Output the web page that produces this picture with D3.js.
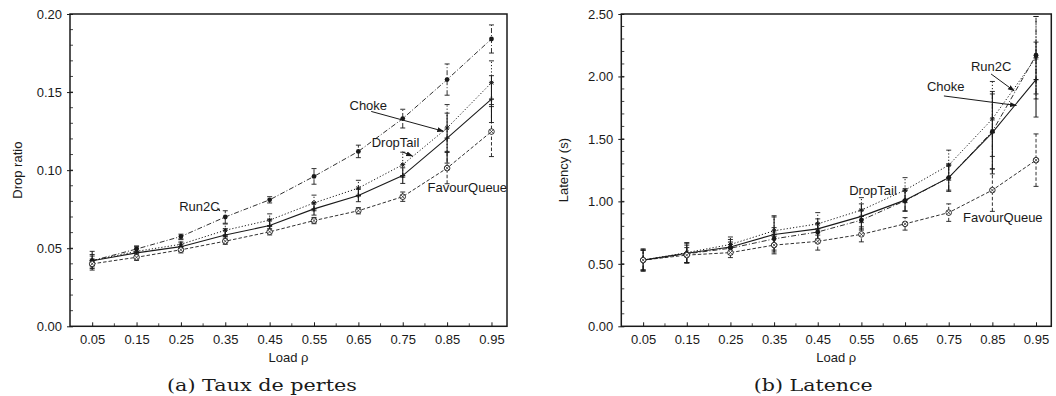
<!DOCTYPE html>
<html>
<head>
<meta charset="utf-8">
<script src="https://cdn.jsdelivr.net/npm/d3@7/dist/d3.min.js"></script>
<style>
  html, body { margin: 0; padding: 0; background: #fff; }
  svg { display: block; }
  text { font-family: "Liberation Sans", Arial, Helvetica, sans-serif; fill: #1a1a1a; }
  .caption { font-family: "DejaVu Serif", "Liberation Serif", serif; }
</style>
</head>
<body>
<svg id="chart" width="1056" height="396"></svg>
<script>
// Offered load (x axis, both panels)
const loads = [0.05, 0.15, 0.25, 0.35, 0.45, 0.55, 0.65, 0.75, 0.85, 0.95];
const xLabelTicks = [0.05, 0.15, 0.25, 0.35, 0.45, 0.55, 0.65, 0.75, 0.85, 0.95];
const xMinorTicks = [0.1, 0.2, 0.3, 0.4, 0.5, 0.6, 0.7, 0.8, 0.9];

// Panel (a): drop ratio, mean and half-width of confidence interval
const dropRun2C         = [0.042, 0.0495, 0.0575, 0.070, 0.081, 0.096, 0.112, 0.133, 0.158, 0.184];
const dropRun2CErr      = [0.003, 0.002, 0.0015, 0.004, 0.002, 0.005, 0.004, 0.006, 0.010, 0.009];
const dropDropTail      = [0.042, 0.048, 0.0525, 0.0615, 0.068, 0.079, 0.0885, 0.1035, 0.127, 0.156];
const dropDropTailErr   = [0.004, 0.003, 0.003, 0.004, 0.004, 0.005, 0.005, 0.008, 0.015, 0.014];
const dropChoke         = [0.042, 0.047, 0.051, 0.0585, 0.0645, 0.0752, 0.0838, 0.0965, 0.1205, 0.1455];
const dropChokeErr      = [0.006, 0.003, 0.003, 0.004, 0.004, 0.004, 0.004, 0.005, 0.016, 0.015];
const dropFavourQueue   = [0.040, 0.0442, 0.049, 0.0545, 0.0605, 0.0677, 0.074, 0.083, 0.1013, 0.1247];
const dropFavourQueueErr= [0.003, 0.002, 0.002, 0.002, 0.002, 0.002, 0.002, 0.003, 0.010, 0.016];
const dropTicks = [0.00, 0.05, 0.10, 0.15, 0.20];

// Panel (b): latency in seconds
const latRun2C          = [0.53, 0.58, 0.625, 0.70, 0.755, 0.85, 1.005, 1.19, 1.56, 2.17];
const latRun2CErr       = [0.08, 0.07, 0.05, 0.09, 0.07, 0.08, 0.08, 0.10, 0.30, 0.31];
const latDropTail       = [0.53, 0.59, 0.655, 0.765, 0.82, 0.93, 1.09, 1.29, 1.66, 2.15];
const latDropTailErr    = [0.08, 0.08, 0.06, 0.12, 0.09, 0.10, 0.10, 0.12, 0.30, 0.33];
const latChoke          = [0.53, 0.585, 0.635, 0.735, 0.78, 0.88, 1.01, 1.19, 1.55, 1.975];
const latChokeErr       = [0.09, 0.08, 0.06, 0.14, 0.08, 0.10, 0.09, 0.11, 0.33, 0.30];
const latFavourQueue    = [0.53, 0.57, 0.59, 0.65, 0.68, 0.736, 0.82, 0.91, 1.09, 1.33];
const latFavourQueueErr = [0.08, 0.06, 0.04, 0.07, 0.07, 0.06, 0.05, 0.07, 0.17, 0.21];
const latTicks = [0.00, 0.50, 1.00, 1.50, 2.00, 2.50];

// Line styles per queueing policy
const styles = {
  Run2C:       { dash: "5,2,1,2", width: 0.9, marker: "disc" },
  DropTail:    { dash: "1.2,2",   width: 1.0, marker: "star" },
  Choke:       { dash: null,      width: 1.1, marker: "plus" },
  FavourQueue: { dash: "3.5,2",   width: 0.9, marker: "ring" }
};

const svg = d3.select("#chart");
const ink = "#1a1a1a";

const defs = svg.append("defs");
[["arrow", 7], ["arrowSmall", 4]].forEach(([id, size]) => {
  defs.append("marker")
    .attr("id", id).attr("viewBox", "0 0 10 10")
    .attr("refX", 9).attr("refY", 5)
    .attr("markerWidth", size).attr("markerHeight", size)
    .attr("orient", "auto")
    .append("path").attr("d", "M0,1.5 L10,5 L0,8.5 Z").attr("fill", ink);
});

function drawPanel(cfg) {
  const g = svg.append("g").attr("transform", `translate(${cfg.left},${cfg.top})`);
  const W = cfg.width, H = cfg.height;
  const x = d3.scaleLinear().domain([0, 0.985]).range([0, W]);
  const y = d3.scaleLinear().domain([0, cfg.yMax]).range([H, 0]);

  // minor y ticks (inside)
  g.append("g").selectAll("line").data(cfg.yMinor).join("line")
    .attr("x1", 0).attr("x2", 3)
    .attr("y1", d => y(d)).attr("y2", d => y(d))
    .attr("stroke", ink).attr("stroke-width", 0.8);

  // y axis
  const ya = g.append("g").call(d3.axisLeft(y).tickValues(cfg.yTicks)
      .tickFormat(d3.format(".2f")).tickSizeInner(3).tickSizeOuter(0).tickPadding(5));
  ya.select(".domain").remove();
  ya.selectAll(".tick line").attr("x2", -3).attr("x1", 3).attr("stroke", ink);
  ya.selectAll("text").attr("font-size", 13).attr("fill", ink)
    .style("font-family", "'Liberation Sans', Arial, sans-serif");

  // x axis: ticks inside, labels below
  const xa = g.append("g").attr("transform", `translate(0,${H})`)
    .call(d3.axisBottom(x).tickValues(cfg.xLabels).tickFormat(d3.format(".2f"))
      .tickSizeInner(-4).tickSizeOuter(0).tickPadding(8));
  xa.select(".domain").remove();
  xa.selectAll(".tick line").attr("stroke", ink);
  xa.selectAll("text").attr("font-size", 13).attr("fill", ink)
    .style("font-family", "'Liberation Sans', Arial, sans-serif");
  g.append("g").selectAll("line").data(cfg.xMinor).join("line")
    .attr("x1", d => x(d)).attr("x2", d => x(d))
    .attr("y1", H).attr("y2", H - 3)
    .attr("stroke", ink).attr("stroke-width", 0.8);

  // frame
  g.append("rect").attr("width", W).attr("height", H)
    .attr("fill", "none").attr("stroke", ink).attr("stroke-width", 1.5);

  // axis titles
  g.append("text").attr("x", W / 2).attr("y", H + 36)
    .attr("text-anchor", "middle").attr("font-size", 13).text("Load ρ");
  g.append("text")
    .attr("transform", `translate(${cfg.yTitleX},${H / 2}) rotate(-90)`)
    .attr("text-anchor", "middle").attr("font-size", 13).text(cfg.yTitle);

  // series
  cfg.series.forEach(s => {
    const st = styles[s.name];
    const pts = loads.map((l, i) => ({ l, v: s.values[i], e: s.err[i] }));
    const sg = g.append("g");

    // confidence intervals
    const eb = sg.append("g").selectAll("g").data(pts).join("g");
    eb.append("line")
      .attr("x1", d => x(d.l)).attr("x2", d => x(d.l))
      .attr("y1", d => y(d.v - d.e)).attr("y2", d => y(d.v + d.e))
      .attr("stroke", ink).attr("stroke-width", st.width)
      .attr("stroke-dasharray", st.dash);
    [-1, 1].forEach(sign => {
      eb.append("line")
        .attr("x1", d => x(d.l) - 2.5).attr("x2", d => x(d.l) + 2.5)
        .attr("y1", d => y(d.v + sign * d.e)).attr("y2", d => y(d.v + sign * d.e))
        .attr("stroke", ink).attr("stroke-width", 0.9);
    });

    // curve
    sg.append("path").datum(pts)
      .attr("d", d3.line().x(d => x(d.l)).y(d => y(d.v)))
      .attr("fill", "none").attr("stroke", ink)
      .attr("stroke-width", st.width)
      .attr("stroke-dasharray", st.dash);

    // point markers
    const mk = sg.append("g").selectAll("g").data(pts).join("g")
      .attr("transform", d => `translate(${x(d.l)},${y(d.v)})`);
    if (st.marker === "disc") {
      mk.append("circle").attr("r", 2.4).attr("fill", ink);
    } else if (st.marker === "ring") {
      mk.append("circle").attr("r", 2.8).attr("fill", "#fff")
        .attr("stroke", ink).attr("stroke-width", 0.9);
      mk.append("path").attr("d", "M-1.8,-1.8L1.8,1.8M-1.8,1.8L1.8,-1.8")
        .attr("stroke", ink).attr("stroke-width", 0.7);
    } else if (st.marker === "star") {
      mk.append("path").attr("d", "M-2.5,0H2.5M0,-2.5V2.5M-1.8,-1.8L1.8,1.8M-1.8,1.8L1.8,-1.8")
        .attr("stroke", ink).attr("stroke-width", 1.0);
    } else {
      mk.append("path").attr("d", "M-2.5,0H2.5M0,-2.5V2.5")
        .attr("stroke", ink).attr("stroke-width", 1.4);
    }
  });

  // annotations, placed in data coordinates
  cfg.notes.forEach(n => {
    g.append("text").attr("x", x(n.at[0])).attr("y", y(n.at[1]))
      .attr("font-size", 13).text(n.text);
    if (n.arrow) {
      g.append("line")
        .attr("x1", x(n.arrow[0][0])).attr("y1", y(n.arrow[0][1]))
        .attr("x2", x(n.arrow[1][0])).attr("y2", y(n.arrow[1][1]))
        .attr("stroke", ink).attr("stroke-width", n.small ? 0.8 : 1)
        .attr("marker-end", n.small ? "url(#arrowSmall)" : "url(#arrow)");
    }
  });

  // caption
  svg.append("text").attr("class", "caption")
    .attr("x", cfg.left + cfg.captionCenter).attr("y", 391)
    .attr("text-anchor", "middle").attr("font-size", 17.5)
    .attr("textLength", cfg.captionWidth).attr("lengthAdjust", "spacingAndGlyphs")
    .text(cfg.caption);
}

drawPanel({
  left: 70, top: 14, width: 437, height: 312.3,
  yMax: 0.20, yTicks: dropTicks, yMinor: d3.range(1, 20).map(i => i / 100),
  xLabels: xLabelTicks, xMinor: xMinorTicks,
  yTitle: "Drop ratio", yTitleX: -48,
  series: [
    { name: "Run2C", values: dropRun2C, err: dropRun2CErr },
    { name: "DropTail", values: dropDropTail, err: dropDropTailErr },
    { name: "Choke", values: dropChoke, err: dropChokeErr },
    { name: "FavourQueue", values: dropFavourQueue, err: dropFavourQueueErr }
  ],
  notes: [
    { text: "Run2C", at: [0.246, 0.0740], arrow: [[0.332, 0.0760], [0.338, 0.0738]], small: true },
    { text: "Choke", at: [0.630, 0.1387], arrow: [[0.679, 0.1376], [0.842, 0.1249]] },
    { text: "DropTail", at: [0.680, 0.1149], arrow: [[0.749, 0.1117], [0.772, 0.1090]] },
    { text: "FavourQueue", at: [0.806, 0.0860] }
  ],
  caption: "(a)  Taux de pertes", captionCenter: 192, captionWidth: 190
});

drawPanel({
  left: 621.3, top: 14, width: 430, height: 312.3,
  yMax: 2.50, yTicks: latTicks, yMinor: d3.range(1, 25).map(i => i / 10),
  xLabels: xLabelTicks, xMinor: xMinorTicks,
  yTitle: "Latency (s)", yTitleX: -53,
  series: [
    { name: "Run2C", values: latRun2C, err: latRun2CErr },
    { name: "DropTail", values: latDropTail, err: latDropTailErr },
    { name: "Choke", values: latChoke, err: latChokeErr },
    { name: "FavourQueue", values: latFavourQueue, err: latFavourQueueErr }
  ],
  notes: [
    { text: "DropTail", at: [0.522, 1.051] },
    { text: "FavourQueue", at: [0.783, 0.835] },
    { text: "Choke", at: [0.700, 1.884], arrow: [[0.739, 1.844], [0.905, 1.768]] },
    { text: "Run2C", at: [0.801, 2.044], arrow: [[0.847, 2.020], [0.900, 1.884]] }
  ],
  caption: "(b)  Latence", captionCenter: 192, captionWidth: 119
});
</script>
</body>
</html>
